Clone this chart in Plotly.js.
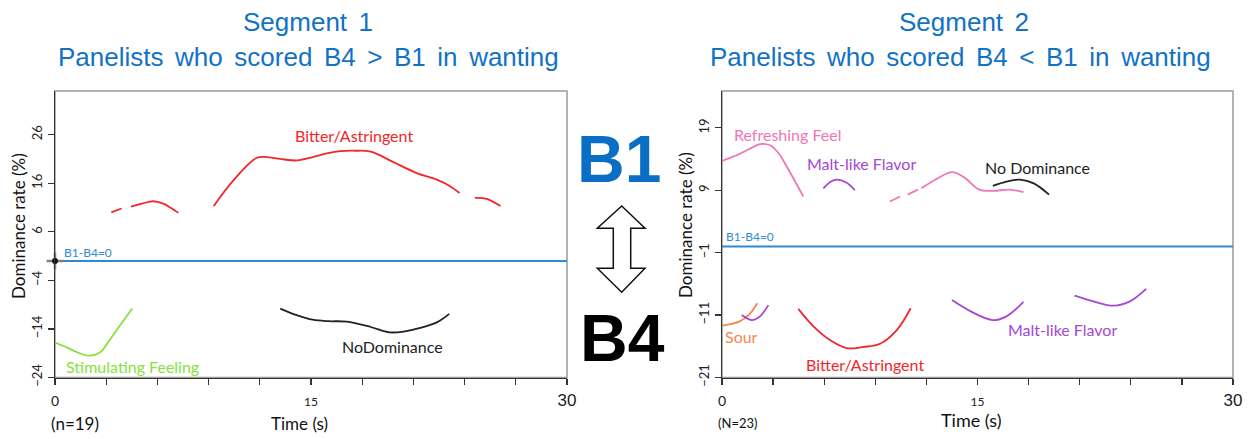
<!DOCTYPE html>
<html>
<head>
<meta charset="utf-8">
<script src="https://cdn.plot.ly/plotly-3.0.1.min.js"></script>
<style>
  html, body { margin: 0; padding: 0; background: #fff; }
  #chart { width: 1248px; height: 439px; }
</style>
</head>
<body>
<div id="chart"></div>
<script>
// ---------- Segment 1 (B4 > B1), time in s, dominance difference in % ----------
const seg1BitterAX = [3.3, 3.9];
const seg1BitterAY = [10.0, 10.8];
const seg1BitterBX = [4.45, 5.1, 5.76, 6.35, 6.8, 7.23];
const seg1BitterBY = [11.2, 11.8, 12.3, 11.8, 10.9, 9.9];
const seg1BitterCX = [9.3, 10.45, 11.8, 12.4, 13.2, 14.2, 15.1, 16.0, 16.7, 17.6, 18.5, 19.8, 21.2, 22.4, 23.1, 23.7];
const seg1BitterCY = [11.3, 16.6, 21.2, 21.4, 21.0, 20.7, 21.4, 22.2, 22.6, 22.7, 22.5, 20.4, 18.1, 16.7, 15.5, 14.0];
const seg1BitterDX = [24.6, 25.3, 26.1];
const seg1BitterDY = [13.0, 12.8, 11.3];
const seg1StimX = [0, 0.68, 1.3, 1.95, 2.64, 3.1, 3.6, 4.53];
const seg1StimY = [-16.8, -17.8, -18.8, -19.5, -18.8, -16.8, -14.3, -9.8];
const seg1NoDomX = [13.2, 14.2, 15.1, 16.0, 17.1, 18.5, 19.6, 20.5, 21.4, 22.4, 23.1];
const seg1NoDomY = [-9.8, -11.2, -12.1, -12.4, -12.5, -13.6, -14.7, -14.5, -13.8, -12.6, -10.9];

// ---------- Segment 2 (B4 < B1) ----------
const seg2RefreshAX = [0, 0.86, 1.6, 2.23, 2.82, 3.3, 3.8, 4.77];
const seg2RefreshAY = [13.7, 14.6, 15.6, 16.4, 16.2, 15.0, 12.8, 8.0];
const seg2RefreshBX = [9.86, 10.45];
const seg2RefreshBY = [7.2, 8.0];
const seg2RefreshCX = [10.9, 11.5];
const seg2RefreshCY = [8.3, 9.1];
const seg2RefreshDX = [11.7, 12.6, 13.5, 14.2, 15.1, 15.9, 16.9, 17.7];
const seg2RefreshDY = [9.3, 10.8, 11.9, 11.1, 9.1, 8.9, 9.1, 8.7];
const seg2MaltTopX = [5.95, 6.4, 6.73, 7.32, 7.8];
const seg2MaltTopY = [9.3, 10.4, 10.7, 10.2, 9.0];
const seg2NoDomX = [15.9, 16.7, 17.5, 18.3, 19.2];
const seg2NoDomY = [9.7, 10.4, 10.7, 10.1, 8.3];
const seg2SourX = [0, 1.04, 1.6, 2.07];
const seg2SourY = [-12.7, -12.0, -10.9, -9.1];
const seg2MaltAX = [1.16, 1.74, 2.23, 2.72];
const seg2MaltAY = [-11.0, -11.8, -11.2, -9.4];
const seg2BitterX = [4.48, 5.37, 6.34, 7.32, 8.3, 9.28, 10.26, 11.08];
const seg2BitterY = [-10.0, -12.8, -15.0, -16.3, -16.1, -15.6, -13.4, -9.9];
const seg2MaltBX = [13.5, 14.6, 15.9, 16.7, 17.7];
const seg2MaltBY = [-8.6, -10.4, -11.8, -11.2, -8.9];
const seg2MaltCX = [20.7, 21.8, 23.0, 23.95, 24.9];
const seg2MaltCY = [-7.9, -8.8, -9.5, -8.8, -6.8];

// reference line B1 - B4 = 0
const baseX = [0, 30];
const baseY = [0, 0];

// axis ticks
const timeTicks = [0, 3, 6, 9, 12, 15, 18, 21, 24, 27, 30];
const timeTickText = ['0', '', '', '', '', '<span style="font-size:12px">15</span>', '', '', '', '',
  '<span style="font-family:Liberation Sans, Arial;font-size:17px">30</span>'];
const seg1YTicks = [-24, -14, -4, 6, 16, 26];
const seg2YTicks = [-21, -11, -1, 9, 19];

const C = {
  red: '#F2262B', green: '#86E23C', black: '#222222', pink: '#F176B6',
  purple: '#A447D4', orange: '#F4874F', blue: '#2F8AD2', title: '#1272C6'
};

function line(x, y, color, xa, ya, width) {
  return {
    x: x, y: y, xaxis: xa, yaxis: ya, type: 'scatter', mode: 'lines',
    line: { color: color, width: width || 1.8, shape: 'spline', smoothing: 1 },
    hoverinfo: 'skip'
  };
}

const traces = [
  line(baseX, baseY, C.blue, 'x', 'y', 2),
  line(seg1BitterAX, seg1BitterAY, C.red, 'x', 'y'),
  line(seg1BitterBX, seg1BitterBY, C.red, 'x', 'y'),
  line(seg1BitterCX, seg1BitterCY, C.red, 'x', 'y'),
  line(seg1BitterDX, seg1BitterDY, C.red, 'x', 'y'),
  line(seg1StimX, seg1StimY, C.green, 'x', 'y'),
  line(seg1NoDomX, seg1NoDomY, C.black, 'x', 'y'),
  // origin marker on the zero line
  { x: [0], y: [0], xaxis: 'x', yaxis: 'y', type: 'scatter', mode: 'markers', cliponaxis: false,
    marker: { symbol: 'cross-thin-open', size: 12, line: { color: '#111', width: 2.5 } }, hoverinfo: 'skip' },
  { x: [0], y: [0], xaxis: 'x', yaxis: 'y', type: 'scatter', mode: 'markers', cliponaxis: false,
    marker: { symbol: 'circle', size: 6, color: '#111' }, hoverinfo: 'skip' },

  line(baseX, baseY, C.blue, 'x2', 'y2', 2),
  line(seg2RefreshAX, seg2RefreshAY, C.pink, 'x2', 'y2'),
  line(seg2RefreshBX, seg2RefreshBY, C.pink, 'x2', 'y2'),
  line(seg2RefreshCX, seg2RefreshCY, C.pink, 'x2', 'y2'),
  line(seg2RefreshDX, seg2RefreshDY, C.pink, 'x2', 'y2'),
  line(seg2MaltTopX, seg2MaltTopY, C.purple, 'x2', 'y2'),
  line(seg2NoDomX, seg2NoDomY, C.black, 'x2', 'y2'),
  line(seg2SourX, seg2SourY, C.orange, 'x2', 'y2'),
  line(seg2MaltAX, seg2MaltAY, C.purple, 'x2', 'y2'),
  line(seg2BitterX, seg2BitterY, C.red, 'x2', 'y2'),
  line(seg2MaltBX, seg2MaltBY, C.purple, 'x2', 'y2'),
  line(seg2MaltCX, seg2MaltCY, C.purple, 'x2', 'y2')
];

const W = 1248, H = 439;
const px = v => v / W;          // pixel -> paper x
const py = v => 1 - v / H;      // pixel -> paper y

const yDom = [py(377.5), py(91)];
const dom1 = [px(55), px(567)];
const dom2 = [px(722), px(1233)];

const tickFont = { family: 'Lato, sans-serif', size: 14, color: '#222' };

function xAxis(dom, anchor) {
  return {
    domain: dom, anchor: anchor, range: [0, 30], tickmode: 'array',
    tickvals: timeTicks, ticktext: timeTickText, ticks: 'outside', ticklen: 6,
    tickcolor: '#333', tickwidth: 1.2, showline: true, linecolor: '#333', linewidth: 1.5,
    showgrid: false, zeroline: false, tickfont: tickFont, ticklabelstandoff: 4, fixedrange: true
  };
}
function yAxis(dom, anchor, range, vals) {
  return {
    domain: dom, anchor: anchor, range: range, tickmode: 'array', tickvals: vals,
    tickangle: -90, ticks: 'outside', ticklen: 6, tickcolor: '#333', tickwidth: 1.2,
    showline: true, linecolor: '#333', linewidth: 1.5, showgrid: false, zeroline: false,
    tickfont: { family: 'Lato, sans-serif', size: 13, color: '#222' }, fixedrange: true
  };
}

const labFont = (color, size) => ({ family: 'Lato, sans-serif', size: size || 16, color: color });

function dataLabel(text, x, y, color, xa, ya, xanchor, size) {
  return { text: text, x: x, y: y, xref: xa, yref: ya, showarrow: false,
    xanchor: xanchor || 'center', yanchor: 'middle', font: labFont(color, size) };
}
function paperLabel(text, x, y, font, angle) {
  return { text: text, x: px(x), y: py(y), xref: 'paper', yref: 'paper', showarrow: false,
    xanchor: 'center', yanchor: 'middle', font: font, textangle: angle || 0 };
}

const titleFont = { family: 'Liberation Sans, Arial, sans-serif', size: 26, color: C.title };
const sp = ' \u2006';   // slightly widened word gap used in the headings

const annotations = [
  paperLabel(['Segment', '1'].join(sp), 308, 22, titleFont),
  paperLabel(['Panelists', 'who', 'scored', 'B4', '&gt;', 'B1', 'in', 'wanting'].join(sp), 308, 57, titleFont),
  paperLabel(['Segment', '2'].join(sp), 964, 22, titleFont),
  paperLabel(['Panelists', 'who', 'scored', 'B4', '&lt;', 'B1', 'in', 'wanting'].join(sp), 960, 57, titleFont),

  paperLabel('<b>B1</b>', 619, 159, { family: 'Liberation Sans, Arial, sans-serif', size: 66, color: '#0A6FC4' }),
  paperLabel('<b>B4</b>', 622, 338, { family: 'Liberation Sans, Arial, sans-serif', size: 66, color: '#000' }),

  paperLabel('Dominance rate (%)', 18, 226, labFont('#111', 17), -90),
  paperLabel('Dominance rate (%)', 685, 225, labFont('#111', 17), -90),
  paperLabel('Time (s)', 299, 423, labFont('#111', 17)),
  paperLabel('(n=19)', 75, 423, labFont('#111', 17)),
  paperLabel('Time (s)', 971, 420, labFont('#111', 18)),
  paperLabel('(N=23)', 738, 423, labFont('#111', 13)),

  dataLabel('Bitter/Astringent', 17.5, 25.8, C.red, 'x', 'y'),
  dataLabel('NoDominance', 19.8, -17.6, C.black, 'x', 'y'),
  dataLabel('Stimulating Feeling', 4.57, -21.7, C.green, 'x', 'y'),
  dataLabel('B1-B4=0', 0.4, 1.7, C.blue, 'x', 'y', 'left', 12),

  dataLabel('Refreshing Feel', 3.9, 18.0, C.pink, 'x2', 'y2'),
  dataLabel('Malt-like Flavor', 8.2, 13.3, C.purple, 'x2', 'y2'),
  dataLabel('No Dominance', 18.5, 12.7, C.black, 'x2', 'y2'),
  dataLabel('Malt-like Flavor', 20.0, -13.3, C.purple, 'x2', 'y2'),
  dataLabel('Sour', 1.16, -14.4, C.orange, 'x2', 'y2'),
  dataLabel('Bitter/Astringent', 8.4, -18.9, C.red, 'x2', 'y2'),
  dataLabel('B1-B4=0', 0.1, 1.6, C.blue, 'x2', 'y2', 'left', 12)
];

// hollow double-headed arrow between the B1 and B4 marks
const arrowPts = [[621.7, 206], [645, 228.3], [630.7, 228.3], [630.7, 268.3], [645, 268.3],
  [621.7, 292.3], [597.3, 268.3], [613.3, 268.3], [613.3, 228.3], [597.3, 228.3]];
const arrowPath = 'M ' + arrowPts.map(p => px(p[0]).toFixed(5) + ',' + py(p[1]).toFixed(5)).join(' L ') + ' Z';

const shapes = [
  { type: 'rect', xref: 'paper', yref: 'paper', x0: dom1[0], x1: dom1[1], y0: yDom[0], y1: yDom[1],
    line: { color: '#9a9a9a', width: 1.5 }, layer: 'below' },
  { type: 'rect', xref: 'paper', yref: 'paper', x0: dom2[0], x1: dom2[1], y0: yDom[0], y1: yDom[1],
    line: { color: '#9a9a9a', width: 1.5 }, layer: 'below' },
  { type: 'path', xref: 'paper', yref: 'paper', path: arrowPath,
    line: { color: '#111', width: 1.5 }, fillcolor: '#fff' }
];

const layout = {
  width: W, height: H,
  margin: { l: 0, r: 0, t: 0, b: 0 },
  paper_bgcolor: '#fff', plot_bgcolor: 'rgba(0,0,0,0)',
  showlegend: false,
  xaxis: xAxis(dom1, 'y'),
  yaxis: yAxis(yDom, 'x', [-24, 35], seg1YTicks),
  xaxis2: xAxis(dom2, 'y2'),
  yaxis2: yAxis(yDom, 'x2', [-21, 24.9], seg2YTicks),
  annotations: annotations,
  shapes: shapes
};

Plotly.newPlot('chart', traces, layout, { staticPlot: true, displayModeBar: false });
</script>
</body>
</html>
